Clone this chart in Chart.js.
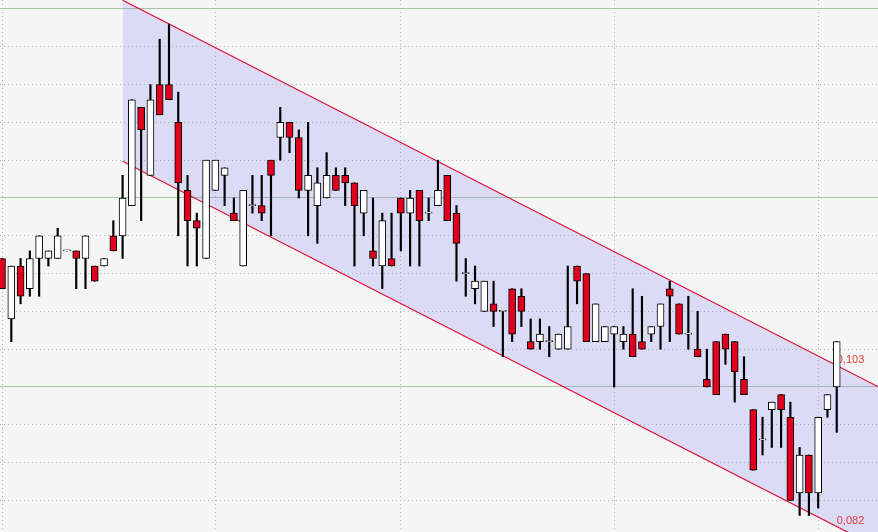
<!DOCTYPE html>
<html>
<head>
<meta charset="utf-8">
<script src="https://cdn.jsdelivr.net/npm/chart.js@4.4.1/dist/chart.umd.min.js"></script>
<style>
  html, body { margin: 0; padding: 0; background: #f5f5f5; }
  #wrap { width: 878px; height: 532px; position: relative; }
</style>
</head>
<body>
<div id="wrap"><canvas id="c"></canvas></div>
<script>
// ---- data (prices, tick 0.001) ----
const opens  = [0.117,0.109,0.116,0.113,0.117,0.117,0.117,0.118,0.118,0.117,
                0.116,0.116,0.120,0.120,0.124,0.137,0.128,0.140,0.140,0.135,
                0.126,0.122,0.117,0.126,0.128,0.123,0.116,0.124,0.124,0.130,
                0.133,0.135,0.133,0.126,0.124,0.125,0.128,0.128,0.127,0.123,
                0.118,0.116,0.117,0.125,0.123,0.126,0.123,0.124,0.128,0.123,
                0.115,0.113,0.110,0.111,0.110,0.113,0.112,0.106,0.106,0.106,
                0.105,0.105,0.116,0.115,0.106,0.106,0.107,0.106,0.107,0.106,
                0.107,0.108,0.113,0.111,0.107,0.105,0.101,0.106,0.107,0.106,
                0.101,0.097,0.093,0.097,0.099,0.096,0.086,0.091,0.086,0.097,
                0.100];
const highs  = [0.117,0.116,0.117,0.118,0.120,0.118,0.121,0.118,0.118,0.120,
                0.116,0.117,0.122,0.128,0.138,0.137,0.140,0.146,0.148,0.139,
                0.128,0.123,0.130,0.130,0.129,0.125,0.126,0.128,0.128,0.130,
                0.137,0.135,0.134,0.135,0.129,0.131,0.129,0.129,0.127,0.126,
                0.125,0.123,0.123,0.125,0.126,0.126,0.125,0.130,0.128,0.124,
                0.117,0.116,0.114,0.114,0.110,0.113,0.113,0.109,0.109,0.108,
                0.107,0.116,0.116,0.115,0.111,0.108,0.108,0.108,0.113,0.112,
                0.108,0.111,0.114,0.111,0.112,0.110,0.105,0.106,0.107,0.106,
                0.104,0.097,0.096,0.098,0.099,0.098,0.092,0.091,0.096,0.099,
                0.106];
const lows   = [0.113,0.106,0.111,0.112,0.112,0.116,0.117,0.118,0.113,0.113,
                0.114,0.116,0.118,0.117,0.124,0.122,0.128,0.136,0.138,0.120,
                0.116,0.116,0.117,0.126,0.124,0.122,0.116,0.123,0.122,0.120,
                0.130,0.131,0.125,0.120,0.119,0.125,0.126,0.124,0.116,0.120,
                0.116,0.113,0.116,0.118,0.116,0.116,0.122,0.124,0.122,0.114,
                0.112,0.111,0.110,0.108,0.104,0.106,0.108,0.105,0.105,0.104,
                0.105,0.105,0.111,0.106,0.106,0.106,0.100,0.105,0.104,0.105,
                0.106,0.105,0.106,0.107,0.105,0.104,0.100,0.099,0.103,0.098,
                0.099,0.089,0.091,0.092,0.092,0.085,0.083,0.083,0.084,0.096,
                0.094];
const closes = [0.113,0.116,0.112,0.117,0.120,0.118,0.120,0.118,0.117,0.120,
                0.114,0.117,0.118,0.125,0.138,0.134,0.138,0.136,0.138,0.127,
                0.122,0.121,0.130,0.130,0.129,0.122,0.126,0.124,0.123,0.128,
                0.135,0.133,0.126,0.128,0.127,0.128,0.126,0.127,0.124,0.126,
                0.117,0.122,0.116,0.123,0.125,0.122,0.123,0.126,0.122,0.119,
                0.115,0.114,0.114,0.110,0.110,0.107,0.110,0.105,0.107,0.106,
                0.107,0.108,0.114,0.106,0.111,0.108,0.108,0.107,0.104,0.105,
                0.108,0.111,0.112,0.107,0.107,0.104,0.100,0.099,0.105,0.102,
                0.099,0.089,0.093,0.098,0.097,0.085,0.091,0.086,0.096,0.099,
                0.106];

// vertical (period) grid lines, at candle positions
const vGridIdx = [0, 23, 43, 66, 88];
// horizontal grid levels
const yGridVals = [0.085,0.090,0.095,0.100,0.105,0.110,0.115,0.120,0.125,0.130,0.135,0.140,0.145,0.150];
const majorLevels = [0.100, 0.125, 0.150];

// descending channel (two anchor points per line)
const channelX     = [13, 95];
const channelUpper = [0.15116, 0.09971];
const channelLower = [0.12986, 0.07840];
const channelLabels = ['0,103', '0,082'];

// visible window
const xRange = [-0.219, 94.45];
const yRange = [0.08082, 0.15119];

// ---- build datasets ----
const RED = '#e0001e';
const isMajor = v => majorLevels.some(m => Math.abs(m - v) < 1e-7);

const wickData = highs.map((h, i) => ({ x: i, y: [lows[i], h] }));
const bodyData = opens.map((o, i) => ({ x: i, y: [o, closes[i]] }));

const labelPlugin = {
  id: 'channelLabels',
  afterDatasetDraw(chart, args) {
    if (args.index !== 2) return;
    const xs = chart.scales.x, ys = chart.scales.y;
    const last = opens.length - 1;
    const t = (last - channelX[0]) / (channelX[1] - channelX[0]);
    const vals = [
      channelUpper[0] + (channelUpper[1] - channelUpper[0]) * t,
      channelLower[0] + (channelLower[1] - channelLower[0]) * t
    ];
    const ctx = chart.ctx;
    ctx.save();
    ctx.font = '11px "Liberation Sans", Arial, sans-serif';
    ctx.fillStyle = '#e23a32';
    ctx.textAlign = 'left';
    ctx.textBaseline = 'alphabetic';
    const px = xs.getPixelForValue(last);
    vals.forEach((v, k) => {
      ctx.fillText(channelLabels[k], px, ys.getPixelForValue(v) - 2.5);
    });
    ctx.restore();
  }
};

new Chart(document.getElementById('c'), {
  type: 'bar',
  data: {
    datasets: [
      {
        label: 'body',
        data: bodyData,
        backgroundColor: ctx => (closes[ctx.dataIndex] < opens[ctx.dataIndex] ? RED : '#ffffff'),
        borderColor: '#000000',
        borderWidth: 1,
        borderSkipped: false,
        barThickness: 7,
        minBarLength: 1,
        grouped: false
      },
      {
        label: 'wick',
        data: wickData,
        backgroundColor: '#000000',
        borderWidth: 0,
        barThickness: 1.5,
        grouped: false
      },
      {
        type: 'line',
        label: 'upper',
        data: channelX.map((x, i) => ({ x: x, y: channelUpper[i] })),
        borderColor: '#dc1438',
        borderWidth: 1.2,
        pointRadius: 0,
        fill: false
      },
      {
        type: 'line',
        label: 'lower',
        data: channelX.map((x, i) => ({ x: x, y: channelLower[i] })),
        borderColor: '#dc1438',
        borderWidth: 1.2,
        pointRadius: 0,
        fill: '-1',
        backgroundColor: 'rgba(128,128,245,0.22)'
      }
    ]
  },
  options: {
    responsive: true,
    maintainAspectRatio: false,
    animation: false,
    layout: { padding: 0 },
    plugins: { legend: { display: false }, tooltip: { enabled: false } },
    scales: {
      x: {
        type: 'linear',
        min: xRange[0],
        max: xRange[1],
        offset: false,
        afterBuildTicks: s => { s.ticks = vGridIdx.map(v => ({ value: v })); },
        ticks: { display: false },
        grid: { offset: false, drawTicks: false, color: '#b9b9b9', lineWidth: 1 },
        border: { display: false, dash: [1, 3] }
      },
      y: {
        type: 'linear',
        min: yRange[0],
        max: yRange[1],
        afterBuildTicks: s => { s.ticks = yGridVals.map(v => ({ value: v })); },
        ticks: { display: false },
        grid: {
          drawTicks: false,
          color: ctx => (ctx.tick && isMajor(ctx.tick.value) ? '#a9c6a9' : '#b9b9b9'),
          lineWidth: 1
        },
        border: {
          display: false,
          dash: ctx => (ctx.tick && isMajor(ctx.tick.value) ? [] : [1, 3])
        }
      }
    }
  },
  plugins: [labelPlugin]
});
</script>
</body>
</html>
